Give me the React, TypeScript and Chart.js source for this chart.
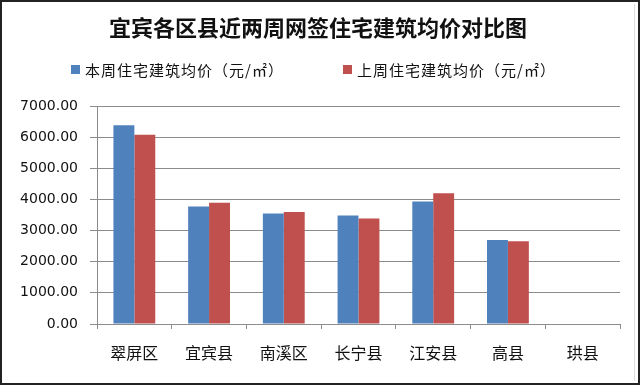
import React, { useEffect, useRef } from "react";
import { Chart, registerables } from "chart.js";

Chart.register(...registerables);

const categories = ["翠屏区", "宜宾县", "南溪区", "长宁县", "江安县", "高县", "珙县"];
const thisWeek = [6380, 3770, 3550, 3480, 3930, 2700, null];
const lastWeek = [6080, 3890, 3600, 3390, 4200, 2660, null];
const seriesNames = ["本周住宅建筑均价（元/㎡）", "上周住宅建筑均价（元/㎡）"];
const titleText = "宜宾各区县近两周网签住宅建筑均价对比图";

const BLUE = "#4F81BD";
const RED = "#C0504D";
const GRID = "#8C8C8C";
const CJK = '"Noto Sans CJK SC", "Noto Sans", sans-serif';

const decorPlugin = {
  id: "decor",
  afterDraw(chart: any) {
    const ctx = chart.ctx;
    ctx.save();
    // title
    ctx.fillStyle = "#111";
    ctx.font = `bold 22px ${CJK}`;
    ctx.textAlign = "center";
    ctx.textBaseline = "middle";
    ctx.fillText(titleText, 318, 28);
    // legend
    ctx.font = `15px ${CJK}`;
    ctx.textAlign = "left";
    try { (ctx as any).letterSpacing = "1px"; } catch (e) {}
    const items = [
      { x: 71, color: BLUE, text: seriesNames[0] },
      { x: 343, color: RED, text: seriesNames[1] },
    ];
    for (const it of items) {
      ctx.fillStyle = it.color;
      ctx.fillRect(it.x, 65, 9, 9);
      ctx.fillStyle = "#111";
      ctx.fillText(it.text, it.x + 14, 70);
    }
    try { (ctx as any).letterSpacing = "0px"; } catch (e) {}
    // frame
    ctx.strokeStyle = "#DDDDDD";
    ctx.lineWidth = 1;
    ctx.beginPath();
    ctx.moveTo(634.5, 4);
    ctx.lineTo(634.5, 381);
    ctx.stroke();
    ctx.strokeStyle = "#222";
    ctx.lineWidth = 2;
    ctx.strokeRect(1, 1, 638, 383);
    ctx.restore();
  },
};

export default function App() {
  const ref = useRef<HTMLCanvasElement>(null);
  useEffect(() => {
    document.body.style.margin = "0";
    const chart = new Chart(ref.current!, {
      type: "bar",
      data: {
        labels: categories,
        datasets: [
          { label: seriesNames[0], data: thisWeek, backgroundColor: BLUE, categoryPercentage: 0.56, barPercentage: 1 },
          { label: seriesNames[1], data: lastWeek, backgroundColor: RED, categoryPercentage: 0.56, barPercentage: 1 },
        ],
      },
      options: {
        animation: false,
        responsive: false,
        layout: { padding: { left: 0, top: 106, right: 20, bottom: 0 } },
        plugins: {
          legend: { display: false },
          title: { display: false },
          tooltip: { enabled: false },
        },
        scales: {
          x: {
            grid: { display: true, offset: true, drawOnChartArea: false, color: GRID, tickLength: 5 },
            border: { color: GRID },
            ticks: { color: "#111", font: { family: CJK, size: 16 }, padding: 14, maxRotation: 0 },
            afterFit: (s: any) => { s.height = 61; },
          },
          y: {
            min: 0,
            max: 7000,
            grid: { color: GRID, tickLength: 7 },
            border: { color: GRID },
            ticks: {
              stepSize: 1000,
              color: "#111",
              font: { family: '"DejaVu Sans", sans-serif', size: 14 },
              padding: 12,
              callback: (v: any) => Number(v).toFixed(2),
            },
            afterFit: (s: any) => { s.width = 97; },
          },
        },
      },
      plugins: [decorPlugin],
    });
    return () => chart.destroy();
  }, []);
  return <canvas ref={ref} width={640} height={385} style={{ display: "block" }} />;
}
